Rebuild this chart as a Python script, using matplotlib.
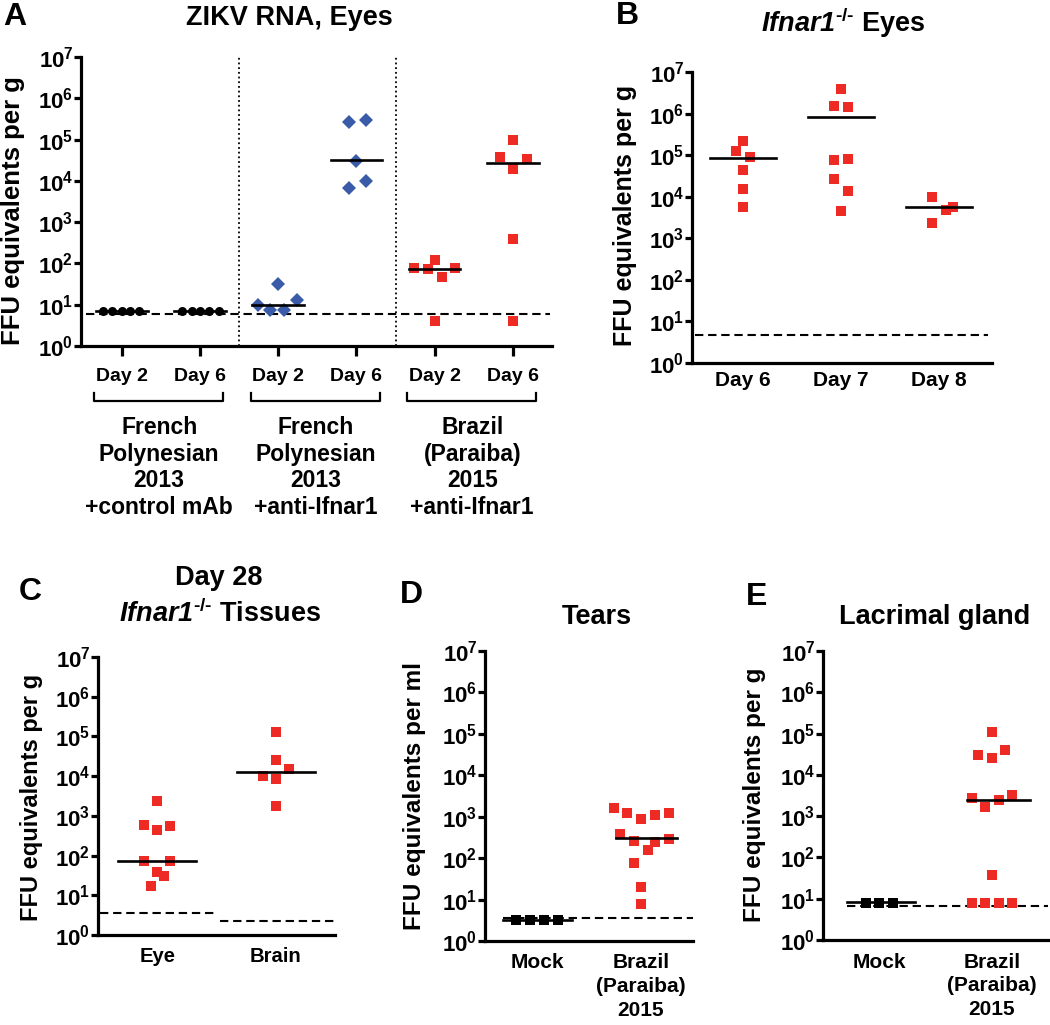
import matplotlib
matplotlib.use("Agg")
import matplotlib.pyplot as plt
import numpy as np
from matplotlib.ticker import FixedLocator, FixedFormatter, NullLocator

plt.rcParams['font.family'] = ['Liberation Sans', 'DejaVu Sans']
plt.rcParams['font.weight'] = 'bold'
plt.rcParams['mathtext.fontset'] = 'custom'
plt.rcParams['mathtext.rm'] = 'Liberation Sans:bold'
plt.rcParams['mathtext.bf'] = 'Liberation Sans:bold'
plt.rcParams['mathtext.it'] = 'Liberation Sans:italic:bold'
plt.rcParams['mathtext.bfit'] = 'Liberation Sans:italic:bold'

RED = '#ee2a24'
BLUE = '#3a5ca8'

# ---------------- data ----------------
# Panel A: ZIKV RNA, Eyes
a_days = ['Day 2', 'Day 6', 'Day 2', 'Day 6', 'Day 2', 'Day 6']
a_groups = ['French\nPolynesian\n2013\n+control mAb',
            'French\nPolynesian\n2013\n+anti-Ifnar1',
            'Brazil\n(Paraiba)\n2015\n+anti-Ifnar1']
a_vals = [
    [7, 7, 7, 7, 7],
    [7, 7, 7, 7, 7],
    [10, 7.5, 31, 7.5, 13],
    [2.6e5, 2.9e5, 3.1e4, 6.8e3, 1.0e4],
    [78, 73, 120, 47, 78, 4],
    [1.0e5, 3.8e4, 3.4e4, 1.9e4, 390, 4],
]
a_jit = [
    [-0.24, -0.12, 0, 0.10, 0.22],
    [-0.23, -0.10, 0, 0.12, 0.24],
    [-0.26, -0.10, 0, 0.08, 0.24],
    [-0.10, 0.12, 0, -0.10, 0.12],
    [-0.26, -0.08, 0, 0.09, 0.26, 0],
    [0, -0.17, 0.18, 0, 0, 0],
]
a_median = [7, 7, 10, 3.2e4, 73, 2.7e4]
a_lod = 5.9

# Panel B: Ifnar1-/- Eyes
b_days = ['Day 6', 'Day 7', 'Day 8']
b_vals = [
    [2.2e5, 1.25e5, 9e4, 4.3e4, 1.5e4, 5.7e3],
    [3.9e6, 1.5e6, 1.4e6, 7.6e4, 8e4, 2.6e4, 1.4e4, 4.6e3],
    [1.0e4, 4.8e3, 5.6e3, 2.3e3],
]
b_jit = [
    [0, -0.07, 0.07, 0, 0, 0],
    [0, -0.07, 0.07, -0.07, 0.07, -0.07, 0.07, 0],
    [-0.07, 0.07, 0.14, -0.07],
]
b_median = [8.7e4, 8.5e5, 5.8e3]
b_lod = 4.8

# Panel C: Day 28 tissues
c_cats = ['Eye', 'Brain']
c_vals = [
    [2300, 600, 430, 550, 72, 72, 39, 30, 17],
    [1.26e5, 2.6e4, 1.5e4, 9.8e3, 8.5e3, 1.8e3],
]
c_jit = [
    [0, -0.11, 0, 0.11, -0.11, 0.11, 0, 0.056, -0.056],
    [0, 0, 0.11, -0.11, 0, 0],
]
c_median = [72, 1.26e4]
c_lod = [3.6, 2.2]

# Panel D: Tears
d_cats = ['Mock', 'Brazil\n(Paraiba)\n2015']
d_vals = [
    [3.3, 3.3, 3.3, 3.3],
    [1600, 1200, 860, 1100, 1250, 380, 260, 250, 290, 155, 78, 20, 7.8],
]
d_jit = [
    [-0.20, -0.07, 0.065, 0.20],
    [-0.26, -0.13, 0, 0.13, 0.27, -0.20, -0.064, 0.13, 0.27, 0.064, -0.064, 0, 0],
]
d_median = [3.3, 300]
d_lod = 3.65

# Panel E: Lacrimal gland
e_cats = ['Mock', 'Brazil\n(Paraiba)\n2015']
e_vals = [
    [8, 8, 8],
    [1.1e5, 3e4, 2.6e4, 4e4, 3.2e3, 2.8e3, 2.4e3, 1.7e3, 37, 8, 8, 8, 8],
]
e_jit = [
    [-0.12, 0, 0.12],
    [0, -0.12, 0, 0.12, 0.18, -0.18, 0.06, -0.06, 0, -0.18, -0.06, 0.06, 0.18],
]
e_median = [8.2, 2500]
e_lod = 6.6

W, H = 1050, 1025
fig = plt.figure(figsize=(W / 100, H / 100), dpi=100)

TITLE = 19.5
LETTER = 23
KO = r'$\mathbfit{Ifnar1}^{\text{-/-}}$'


def px_axes(l, r, t, b):
    return fig.add_axes([l / W, 1 - b / H, (r - l) / W, (b - t) / H])


def style_log(ax, xticklen=0):
    ax.set_yscale('log')
    ax.set_ylim(1, 1e7)
    ax.yaxis.set_major_locator(FixedLocator([10.0 ** k for k in range(8)]))
    ax.yaxis.set_major_formatter(FixedFormatter(
        [r'$\mathbf{10^{%d}}$' % k for k in range(8)]))
    ax.yaxis.set_minor_locator(NullLocator())
    ax.xaxis.set_minor_locator(NullLocator())
    for s in ['top', 'right']:
        ax.spines[s].set_visible(False)
    for s in ['left', 'bottom']:
        ax.spines[s].set_linewidth(2.3)
    ax.tick_params(axis='y', length=5, width=2.3, pad=0.5, labelsize=16)
    ax.tick_params(axis='x', length=xticklen, width=2.3)


def dots(ax, pos, vals, jit, color, marker, size):
    xs = [pos + j for j in jit]
    ax.plot(xs, vals, linestyle='none', marker=marker, color=color,
            markersize=size, markeredgewidth=0, clip_on=False, zorder=3)


def median_line(ax, x0, x1, v):
    ax.plot([x0, x1], [v, v], color='black', lw=1.9, zorder=4)


def lod_line(ax, x0, x1, v):
    ax.plot([x0, x1], [v, v], color='black', lw=1.5,
            linestyle=(0, (4, 2.3)), zorder=2, clip_on=False)


def ylab(x, y, s, size):
    fig.text(x / W, 1 - y / H, s, rotation=90, ha='center', va='center',
             fontsize=size)


def title(x, y, s, size=TITLE):
    fig.text(x / W, 1 - y / H, s, ha='center', va='center', fontsize=size)


def letter(x, y, s):
    fig.text(x / W, 1 - y / H, s, ha='left', va='center', fontsize=LETTER)


# ---------------- Panel A ----------------
axA = px_axes(81, 552, 57, 346)
style_log(axA, xticklen=7)
axA.set_xlim(-0.52, 5.5)
axA.set_xticks(range(6))
axA.set_xticklabels(a_days, fontsize=14)
axA.tick_params(axis='x', pad=9)
for i, vals in enumerate(a_vals):
    if i < 2:
        dots(axA, i, vals, a_jit[i], 'black', 'o', 6.5)
    elif i < 4:
        dots(axA, i, vals, a_jit[i], BLUE, 'D', 7.3)
    else:
        dots(axA, i, vals, a_jit[i], RED, 's', 7)
    median_line(axA, i - 0.33, i + 0.33, a_median[i])
lod_line(axA, -0.45, 5.47, a_lod)
for xv in [1.5, 3.5]:
    axA.axvline(xv, color='black', lw=1.3, linestyle=(0, (1, 1.6)), zorder=1)
tr = axA.get_xaxis_transform()
for g, lab in enumerate(a_groups):
    x0, x1 = 2 * g - 0.35, 2 * g + 1.3
    axA.plot([x0, x0, x1, x1], [-0.163, -0.19, -0.19, -0.163], color='black',
             lw=1.6, transform=tr, clip_on=False)
    axA.text(2 * g + 0.48, -0.243, lab, transform=tr, ha='center', va='top',
             fontsize=16.5, linespacing=1.2)
ylab(13, 211, 'FFU equivalents per g', 18.5)
title(289, 18, 'ZIKV RNA, Eyes')
letter(3, 17, 'A')

# ---------------- Panel B ----------------
axB = px_axes(692, 992, 72, 363)
style_log(axB)
axB.set_xlim(-0.52, 2.54)
axB.set_xticks(range(3))
axB.set_xticklabels(b_days, fontsize=15)
axB.tick_params(axis='x', pad=6)
for i, vals in enumerate(b_vals):
    dots(axB, i, vals, b_jit[i], RED, 's', 7)
    median_line(axB, i - 0.34, i + 0.34, b_median[i])
lod_line(axB, -0.49, 2.5, b_lod)
ylab(625, 215, 'FFU equivalents per g', 18)
title(843, 23, KO + ' Eyes')
letter(616, 16, 'B')

# ---------------- Panel C ----------------
axC = px_axes(98, 335, 657, 935)
style_log(axC)
axC.set_xlim(-0.5, 1.5)
axC.set_xticks(range(2))
axC.set_xticklabels(c_cats, fontsize=14.6)
axC.tick_params(axis='x', pad=9)
for i, vals in enumerate(c_vals):
    dots(axC, i, vals, c_jit[i], RED, 's', 7)
    median_line(axC, i - 0.33, i + 0.33, c_median[i])
lod_line(axC, -0.48, 0.49, c_lod[0])
lod_line(axC, 0.53, 1.5, c_lod[1])
ylab(32, 797, 'FFU equivalents per g', 17)
title(219, 578, 'Day 28')
title(220, 614, KO + ' Tissues')
letter(19, 592, 'C')

# ---------------- Panel D ----------------
axD = px_axes(485, 693, 651, 941)
style_log(axD)
axD.set_xlim(-0.5, 1.5)
axD.set_xticks(range(2))
axD.set_xticklabels(d_cats, fontsize=15, linespacing=1.32)
axD.tick_params(axis='x', pad=9)
for i, vals in enumerate(d_vals):
    dots(axD, i, vals, d_jit[i], 'black' if i == 0 else RED, 's', 7)
median_line(axD, -0.33, 0.34, d_median[0])
median_line(axD, 0.76, 1.35, d_median[1])
lod_line(axD, -0.33, 1.5, d_lod)
ylab(414, 796, 'FFU equivalents per ml', 17.5)
title(597, 617, 'Tears')
letter(400, 595, 'D')

# ---------------- Panel E ----------------
axE = px_axes(823, 1048, 651, 940)
style_log(axE)
axE.set_xlim(-0.5, 1.5)
axE.set_xticks(range(2))
axE.set_xticklabels(e_cats, fontsize=15, linespacing=1.32)
axE.tick_params(axis='x', pad=9)
for i, vals in enumerate(e_vals):
    dots(axE, i, vals, e_jit[i], 'black' if i == 0 else RED, 's', 7)
median_line(axE, -0.29, 0.32, e_median[0])
median_line(axE, 0.78, 1.34, e_median[1])
lod_line(axE, -0.29, 1.5, e_lod)
ylab(754, 795, 'FFU equivalents per g', 17.5)
title(935, 617, 'Lacrimal gland')
letter(746, 597, 'E')

fig.savefig('out.png', dpi=100)
